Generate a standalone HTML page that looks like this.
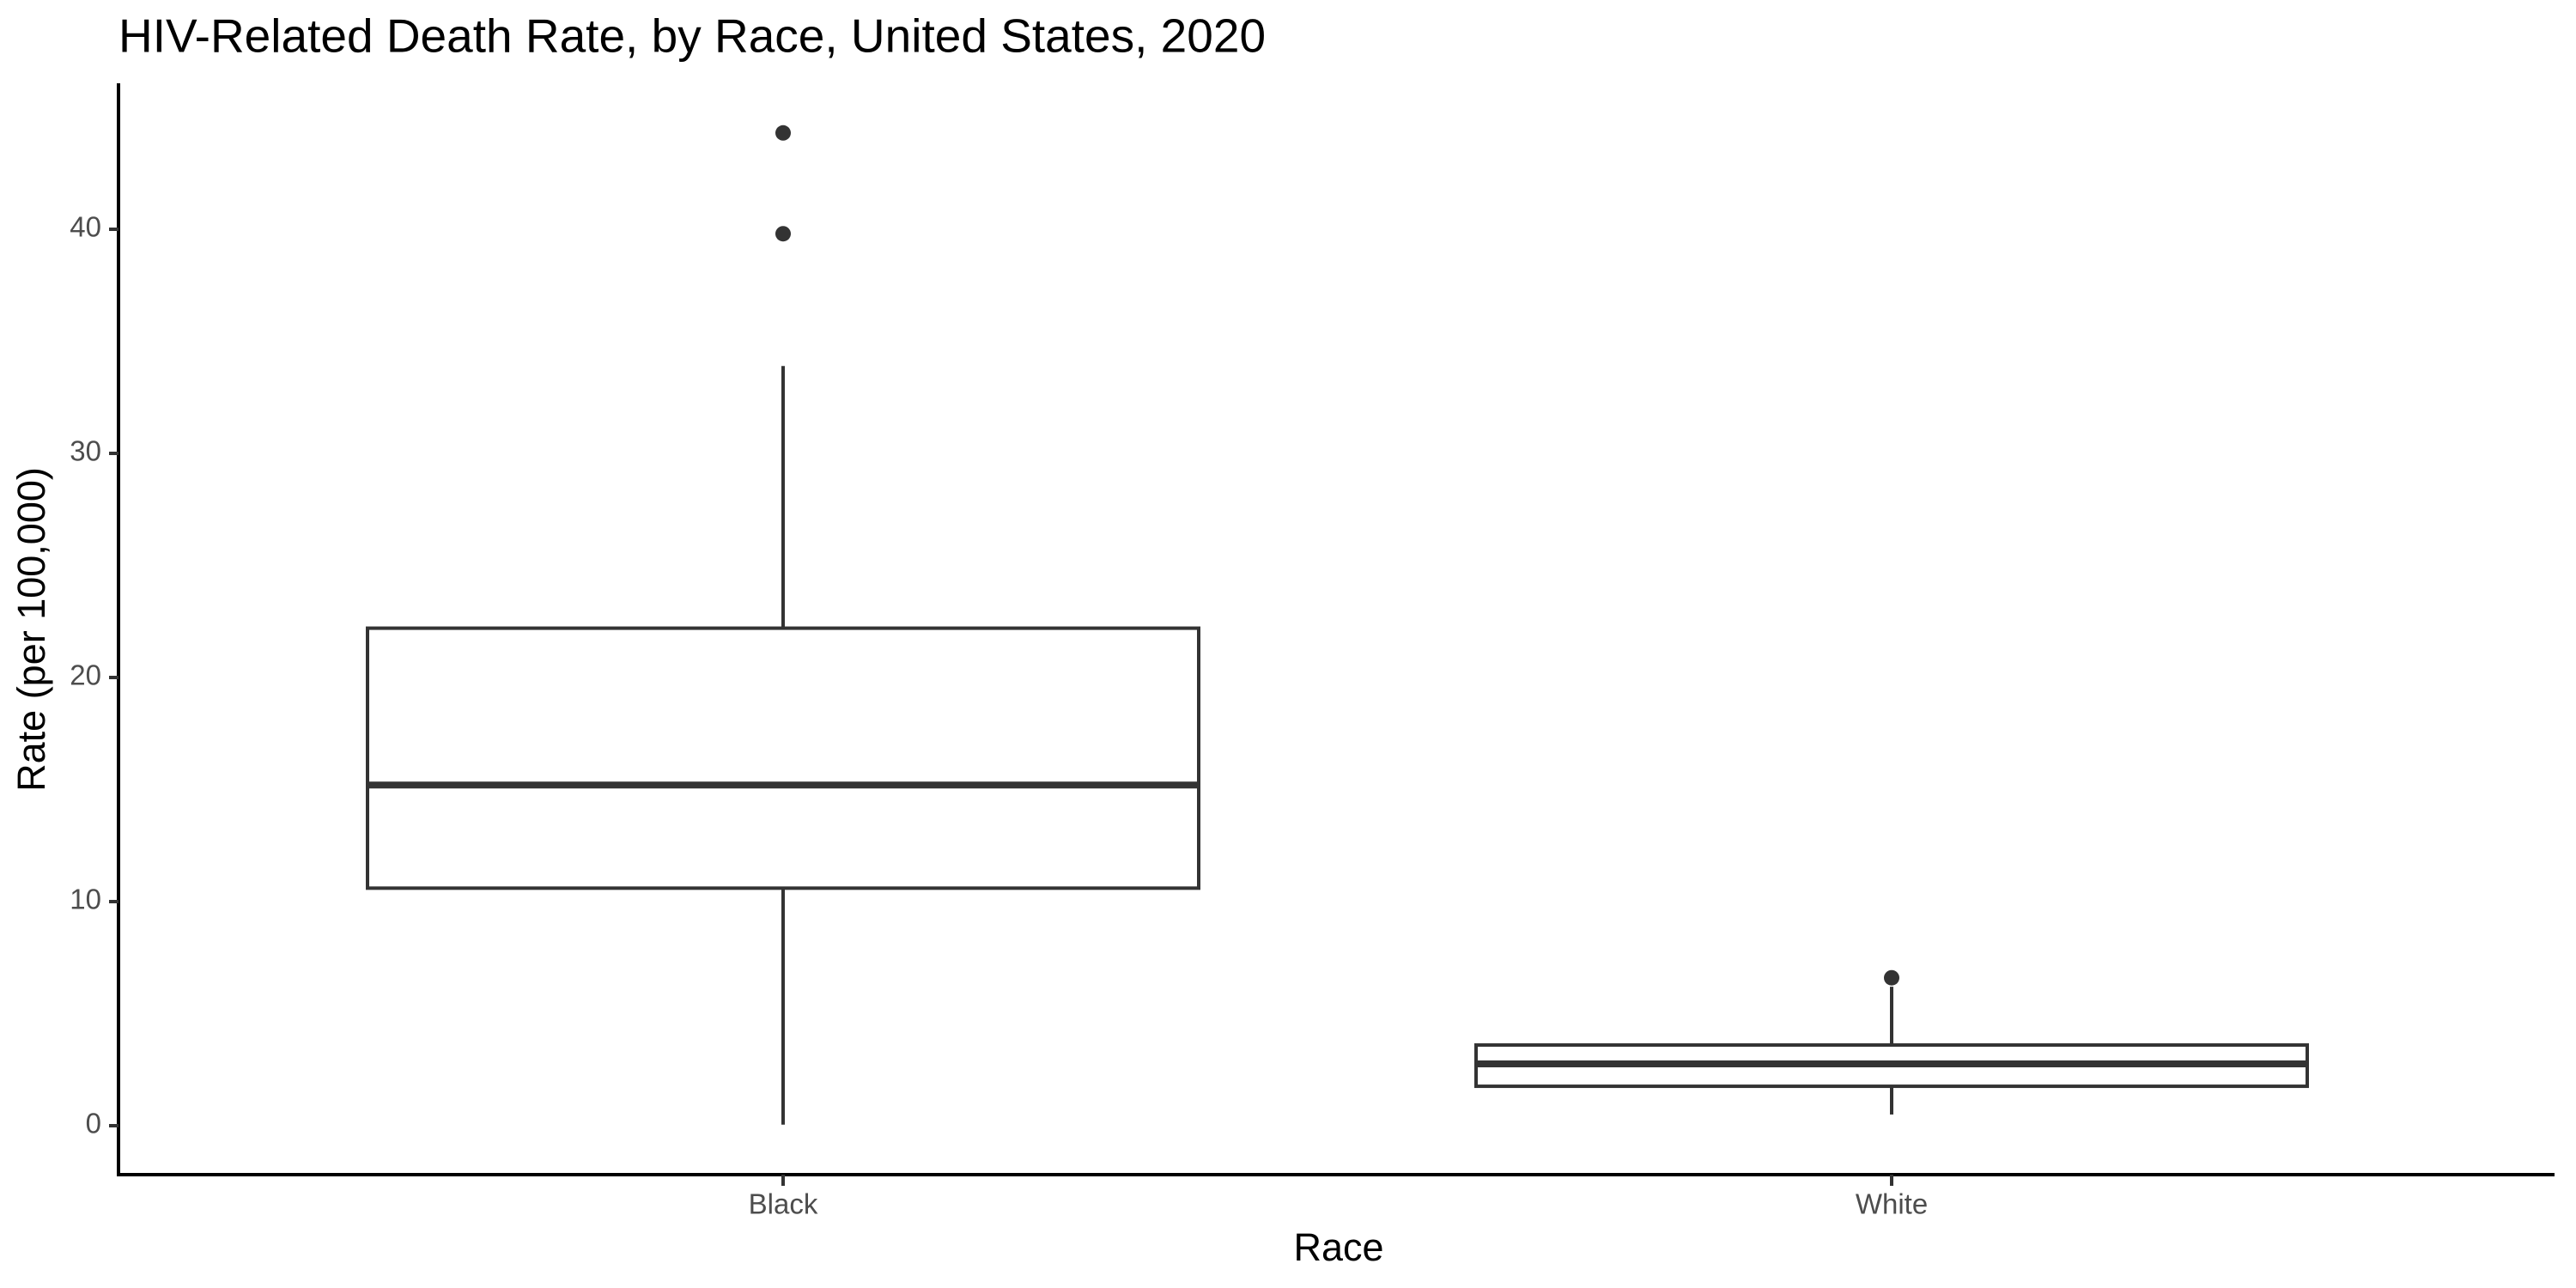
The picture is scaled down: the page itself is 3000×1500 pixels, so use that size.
<!DOCTYPE html>
<html><head><meta charset="utf-8"><style>
html,body{margin:0;padding:0;background:#fff;}
svg{display:block;font-family:"Liberation Sans",Arial,sans-serif;}
</style></head><body>
<svg id="chart" width="3000" height="1500" viewBox="0 0 3000 1500">
<text x="138" y="46" font-size="55" fill="#000" dominant-baseline="middle">HIV-Related Death Rate, by Race, United States, 2020</text>
<g id="marks"></g>
<line x1="138" y1="97" x2="138" y2="1370" stroke="#000" stroke-width="4"/>
<line x1="136" y1="1368" x2="2975" y2="1368" stroke="#000" stroke-width="4"/>
<g id="axes"></g>
<text x="1559" y="1456" font-size="45" text-anchor="middle" dominant-baseline="middle" fill="#000">Race</text>
<text transform="translate(40,733) rotate(-90)" font-size="45" text-anchor="middle" dominant-baseline="middle" fill="#000">Rate (per 100,000)</text>
</svg>
<script>
const categories = ["Black", "White"];
const q1Values = [10.6, 1.76];
const medianValues = [15.2, 2.76];
const q3Values = [22.2, 3.6];
const whiskerLow = [0.05, 0.5];
const whiskerHigh = [33.9, 6.2];
const outlierValues = [[44.3, 39.8], [6.6]];
const yTicks = [0, 10, 20, 30, 40];

const NS = "http://www.w3.org/2000/svg";
function yScale(v){ return 1311 - v * 26.1; }
function xScale(i){ return 912 + i * 1291; }
const halfW = 484;
const marks = document.getElementById('marks');
const axes = document.getElementById('axes');
function mk(tag, attrs, parent){
  const e = document.createElementNS(NS, tag);
  for (const k in attrs) e.setAttribute(k, attrs[k]);
  parent.appendChild(e);
  return e;
}
categories.forEach((c, i) => {
  const cx = xScale(i);
  const w1 = mk('line', {x1:cx, x2:cx, y1:yScale(q3Values[i]), y2:yScale(whiskerHigh[i]), stroke:'#333', 'stroke-width':4}, marks);
  
  
  const w2 = mk('line', {x1:cx, x2:cx, y1:yScale(q1Values[i]), y2:yScale(whiskerLow[i]), stroke:'#333', 'stroke-width':4}, marks);
  
  
  const box = mk('rect', {x:cx-halfW, y:yScale(q3Values[i]), width:halfW*2, height:yScale(q1Values[i])-yScale(q3Values[i]), fill:'#fff', stroke:'#333', 'stroke-width':4}, marks);
  
  
  const med = mk('line', {x1:cx-halfW, x2:cx+halfW, y1:yScale(medianValues[i]), y2:yScale(medianValues[i]), stroke:'#333', 'stroke-width':8}, marks);
  
  
  outlierValues[i].forEach(v => {
    const o = mk('circle', {cx:cx, cy:yScale(v), r:9, fill:'#333'}, marks);
    
    
  });
  const t = mk('line', {x1:cx, x2:cx, y1:1368, y2:1381, stroke:'#333', 'stroke-width':4}, axes);
  
  
  const l = mk('text', {x:cx, y:1405, 'font-size':33, fill:'#4d4d4d', 'text-anchor':'middle', 'dominant-baseline':'middle'}, axes);
  l.textContent = c;
  
  
});
yTicks.forEach(v => {
  const y = yScale(v);
  const t = mk('line', {x1:127, x2:138, y1:y, y2:y, stroke:'#333', 'stroke-width':4}, axes);
  
  
  const l = mk('text', {x:118, y:y, 'font-size':33, fill:'#4d4d4d', 'text-anchor':'end', 'dominant-baseline':'middle'}, axes);
  l.textContent = v;
  
  
});
</script>
</body></html>
